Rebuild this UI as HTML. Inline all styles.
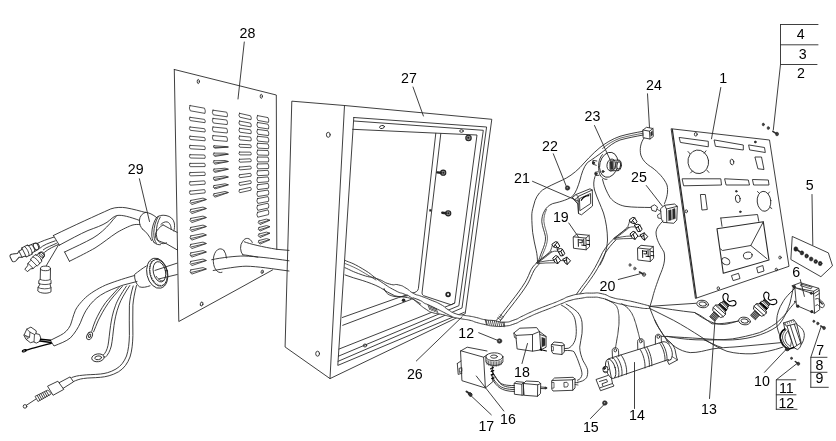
<!DOCTYPE html>
<html><head><meta charset="utf-8"><title>Exploded diagram</title>
<style>
html,body{margin:0;padding:0;background:#fff;}
body{width:836px;height:441px;overflow:hidden;font-family:"Liberation Sans",sans-serif;}
svg{display:block;will-change:transform}
text{font-family:"Liberation Sans",sans-serif;font-size:14.2px;fill:#000;stroke:none;text-anchor:middle}
</style></head><body>
<svg width="836" height="441" viewBox="0 0 836 441" fill="none" stroke="#2a2a2a" stroke-width="0.9" stroke-linecap="round" stroke-linejoin="round">
<rect x="0" y="0" width="836" height="441" fill="#fff" stroke="none"/>
<!-- Panel 28 -->
<g id="panel28">
<path d="M174.3,69.5 L276.3,95 L276.8,249.5 M174.3,69.5 L178.8,321.5 L239,288.5 L272.5,270"/>
<ellipse cx="198.3" cy="81.5" rx="1.1" ry="2.1"/>
<ellipse cx="261.3" cy="96.3" rx="1.1" ry="2"/>
<ellipse cx="201.6" cy="304" rx="1.3" ry="2.1" transform="rotate(15 201.6 304)"/>
<ellipse cx="262.2" cy="271.8" rx="1" ry="1.8" transform="rotate(15 262.2 271.8)"/>
<g id="louvers" stroke-width="0.8"><path d="M190.0,105.6 L204.5,108.2 Q205.8,110.8 205.0,113.4 L190.3,110.8 Q188.5,108.2 190.0,105.6Z"/><path d="M190.0,117.3 L204.5,119.4 Q205.8,121.1 205.0,122.7 L190.3,120.6 Q188.5,118.9 190.0,117.3Z"/><path d="M190.0,127.0 L204.5,128.7 Q205.8,130.3 205.0,132.0 L190.3,130.3 Q188.5,128.7 190.0,127.0Z"/><path d="M190.0,136.2 L204.5,137.5 Q205.8,139.1 205.0,140.8 L190.3,139.5 Q188.5,137.9 190.0,136.2Z"/><path d="M190.0,145.4 L204.5,146.2 Q205.8,147.9 205.0,149.6 L190.3,148.8 Q188.5,147.1 190.0,145.4Z"/><path d="M190.0,154.7 L204.5,155.0 Q205.8,156.7 205.0,158.3 L190.3,158.0 Q188.5,156.3 190.0,154.7Z"/><path d="M190.0,163.4 L204.5,163.3 Q205.8,164.9 205.0,166.6 L190.3,166.7 Q188.5,165.1 190.0,163.4Z"/><path d="M190.0,172.6 L204.5,172.1 Q205.8,173.7 205.0,175.4 L190.3,175.9 Q188.5,174.3 190.0,172.6Z"/><path d="M190.0,181.8 L204.5,180.8 Q205.8,182.5 205.0,184.2 L190.3,185.2 Q188.5,183.5 190.0,181.8Z"/><path d="M190.0,191.1 L204.5,189.6 Q205.8,191.3 205.0,192.9 L190.3,194.4 Q188.5,192.7 190.0,191.1Z"/><path d="M190.8,200.4 L203.0,198.1 L206.5,199.5 L191.8,204.6 Q188.5,202.5 190.8,200.4Z M191.3,202.9 L205.5,199.6"/><path d="M190.8,209.4 L203.0,207.1 L206.5,208.5 L191.8,213.6 Q188.5,211.5 190.8,209.4Z M191.3,211.9 L205.5,208.6"/><path d="M190.8,218.4 L203.0,216.1 L206.5,217.5 L191.8,222.6 Q188.5,220.5 190.8,218.4Z M191.3,220.9 L205.5,217.6"/><path d="M190.8,227.4 L203.0,225.1 L206.5,226.5 L191.8,231.6 Q188.5,229.5 190.8,227.4Z M191.3,229.9 L205.5,226.6"/><path d="M190.8,235.9 L203.0,233.6 L206.5,235.0 L191.8,240.1 Q188.5,238.0 190.8,235.9Z M191.3,238.4 L205.5,235.1"/><path d="M190.8,244.4 L203.0,242.1 L206.5,243.5 L191.8,248.6 Q188.5,246.5 190.8,244.4Z M191.3,246.9 L205.5,243.6"/><path d="M190.8,252.9 L203.0,250.6 L206.5,252.0 L191.8,257.1 Q188.5,255.0 190.8,252.9Z M191.3,255.4 L205.5,252.1"/><path d="M190.8,261.4 L203.0,259.1 L206.5,260.5 L191.8,265.6 Q188.5,263.5 190.8,261.4Z M191.3,263.9 L205.5,260.6"/><path d="M190.8,269.9 L203.0,267.6 L206.5,269.0 L191.8,274.1 Q188.5,272.0 190.8,269.9Z M191.3,272.4 L205.5,269.1"/><path d="M213.0,110.2 L226.7,112.2 Q228.0,114.5 227.2,116.8 L213.3,114.8 Q211.5,112.5 213.0,110.2Z"/><path d="M213.0,118.4 L226.7,120.0 Q228.0,122.3 227.2,124.6 L213.3,123.0 Q211.5,120.7 213.0,118.4Z"/><path d="M213.0,127.0 L226.7,128.4 Q228.0,130.7 227.2,133.0 L213.3,131.6 Q211.5,129.3 213.0,127.0Z"/><path d="M213.0,135.6 L226.7,136.8 Q228.0,139.1 227.2,141.4 L213.3,140.2 Q211.5,137.9 213.0,135.6Z"/><path d="M214.0,145.8 L225.0,146.5 L228.5,147.0 L215.0,148.2 Q211.7,147.0 214.0,145.8Z M214.5,147.4 L227.5,147.1"/><path d="M214.0,153.1 L225.0,153.2 L228.5,154.2 L215.0,156.4 Q211.7,154.8 214.0,153.1Z M214.5,155.2 L227.5,154.3"/><path d="M214.0,160.8 L225.0,160.5 L228.5,161.5 L215.0,164.2 Q211.7,162.5 214.0,160.8Z M214.5,162.9 L227.5,161.6"/><path d="M214.0,169.1 L225.0,168.2 L228.5,169.2 L215.0,172.4 Q211.7,170.8 214.0,169.1Z M214.5,171.2 L227.5,169.3"/><path d="M214.0,177.3 L225.0,176.0 L228.5,177.0 L215.0,180.7 Q211.7,179.0 214.0,177.3Z M214.5,179.4 L227.5,177.1"/><path d="M214.0,185.6 L225.0,183.8 L228.5,184.8 L215.0,188.9 Q211.7,187.2 214.0,185.6Z M214.5,187.7 L227.5,184.8"/><path d="M214.0,193.8 L225.0,191.5 L228.5,192.5 L215.0,197.2 Q211.7,195.5 214.0,193.8Z M214.5,195.9 L227.5,192.6"/><path d="M239.5,113.3 L250.5,115.8 Q251.8,117.8 251.0,119.7 L239.8,117.2 Q238.0,115.2 239.5,113.3Z"/><path d="M239.5,121.1 L250.5,123.1 Q251.8,125.0 251.0,126.9 L239.8,124.9 Q238.0,123.0 239.5,121.1Z"/><path d="M239.5,128.3 L250.5,129.8 Q251.8,131.8 251.0,133.7 L239.8,132.2 Q238.0,130.2 239.5,128.3Z"/><path d="M239.5,136.1 L250.5,137.1 Q251.8,139.0 251.0,140.9 L239.8,139.9 Q238.0,138.0 239.5,136.1Z"/><path d="M239.5,144.3 L250.5,144.8 Q251.8,146.2 251.0,147.7 L239.8,147.2 Q238.0,145.8 239.5,144.3Z"/><path d="M239.5,152.1 L250.5,152.1 Q251.8,153.5 251.0,154.9 L239.8,154.9 Q238.0,153.5 239.5,152.1Z"/><path d="M239.5,159.3 L250.5,158.8 Q251.8,160.2 251.0,161.7 L239.8,162.2 Q238.0,160.8 239.5,159.3Z"/><path d="M239.5,167.1 L250.5,166.1 Q251.8,167.5 251.0,168.9 L239.8,169.9 Q238.0,168.5 239.5,167.1Z"/><path d="M239.5,174.8 L250.5,173.3 Q251.8,174.8 251.0,176.2 L239.8,177.7 Q238.0,176.2 239.5,174.8Z"/><path d="M239.5,182.6 L250.5,180.6 Q251.8,182.0 251.0,183.4 L239.8,185.4 Q238.0,184.0 239.5,182.6Z"/><path d="M239.5,189.8 L250.5,187.3 Q251.8,188.8 251.0,190.2 L239.8,192.7 Q238.0,191.2 239.5,189.8Z"/><path d="M257.5,115.6 L268.0,117.6 Q269.3,120.0 268.5,122.4 L257.8,120.4 Q256.0,118.0 257.5,115.6Z"/><path d="M257.5,122.5 L268.0,124.2 Q269.3,126.6 268.5,129.0 L257.8,127.3 Q256.0,124.9 257.5,122.5Z"/><path d="M257.5,129.4 L268.0,130.8 Q269.3,133.2 268.5,135.6 L257.8,134.2 Q256.0,131.8 257.5,129.4Z"/><path d="M257.5,136.3 L268.0,137.4 Q269.3,139.8 268.5,142.2 L257.8,141.1 Q256.0,138.7 257.5,136.3Z"/><path d="M257.5,143.3 L268.0,143.9 Q269.3,146.3 268.5,148.7 L257.8,148.1 Q256.0,145.7 257.5,143.3Z"/><path d="M257.5,150.2 L268.0,150.5 Q269.3,152.9 268.5,155.3 L257.8,155.0 Q256.0,152.6 257.5,150.2Z"/><path d="M257.5,157.1 L268.0,157.1 Q269.3,159.5 268.5,161.9 L257.8,161.9 Q256.0,159.5 257.5,157.1Z"/><path d="M257.5,164.0 L268.0,163.7 Q269.3,166.1 268.5,168.5 L257.8,168.8 Q256.0,166.4 257.5,164.0Z"/><path d="M257.5,170.9 L268.0,170.3 Q269.3,172.7 268.5,175.1 L257.8,175.7 Q256.0,173.3 257.5,170.9Z"/><path d="M257.5,177.8 L268.0,176.9 Q269.3,179.3 268.5,181.7 L257.8,182.6 Q256.0,180.2 257.5,177.8Z"/><path d="M257.5,184.8 L268.0,183.4 Q269.3,185.8 268.5,188.2 L257.8,189.6 Q256.0,187.2 257.5,184.8Z"/><path d="M257.5,191.7 L268.0,190.0 Q269.3,192.4 268.5,194.8 L257.8,196.5 Q256.0,194.1 257.5,191.7Z"/><path d="M257.5,198.6 L268.0,196.6 Q269.3,199.0 268.5,201.4 L257.8,203.4 Q256.0,201.0 257.5,198.6Z"/><path d="M257.5,205.5 L268.0,203.2 Q269.3,205.6 268.5,208.0 L257.8,210.3 Q256.0,207.9 257.5,205.5Z"/><path d="M257.5,212.4 L268.0,209.8 Q269.3,212.2 268.5,214.6 L257.8,217.2 Q256.0,214.8 257.5,212.4Z"/><path d="M259.0,221.0 L266.5,219.1 L270.0,220.2 L260.0,224.6 Q256.7,222.8 259.0,221.0Z M259.5,223.2 L269.0,220.3"/><path d="M259.0,227.5 L266.5,225.6 L270.0,226.7 L260.0,231.1 Q256.7,229.3 259.0,227.5Z M259.5,229.7 L269.0,226.8"/><path d="M259.0,234.0 L266.5,232.1 L270.0,233.2 L260.0,237.6 Q256.7,235.8 259.0,234.0Z M259.5,236.2 L269.0,233.3"/><path d="M259.0,240.5 L266.5,238.6 L270.0,239.7 L260.0,244.1 Q256.7,242.3 259.0,240.5Z M259.5,242.7 L269.0,239.8"/></g>
<!-- holes with cables -->
<path d="M224,250.5 A7,12 0 1 0 222,272.3"/>
<path d="M226.5,258 A7,12 0 0 0 224,250.5"/>
<path d="M252.3,242.5 A5.9,8.5 0 0 0 242.6,241.5 A5.9,8.5 0 0 0 242.8,254.8"/>
<path d="M211.7,259.7 C222,257.5 236,256 244,256 C256,256.5 270,258 289,260.8"/>
<path d="M213.2,270.5 C224,268.8 238,266.3 246,266.2 C258,266.4 272,268.8 289,271"/>
<path d="M244.3,241.8 C250,244 262,246.8 276.8,249.3 L289,250.4"/>
<path d="M242.8,254.8 C246,255 252,256 258,257.2"/>
</g>

<!-- Box 27 -->
<g id="box27">
<path d="M292.2,101.2 L344.5,105.5 L491.8,119.3 L465.2,313.7 L330,378.6 L285.4,347.2 Z"/>
<path d="M344.5,105.5 L330,378.6"/>
<ellipse cx="328.3" cy="134.8" rx="1.9" ry="2.5"/>
<ellipse cx="317.6" cy="353.7" rx="1.9" ry="2.5"/>
<!-- frame inner lines -->
<path d="M353.800,117.500 L486.600,127 L462,308 L338.100,361.300 M353.800,117.500 L337.800,365.400 L464.300,312.300"/>
<path d="M354,121 L483.300,130.300 L458.900,305.700 L338.400,356.200"/>
<path d="M352.600,129.300 L477,135 L454.700,303 L452.500,304.100 L338.900,349.100"/>
<!-- back panel divider -->
<path d="M435.800,133.300 L418.400,288.500 C418,291 416,292.300 413,293 M440.800,133.600 L422,293 C422.300,294.800 423,295.500 423.900,295.800 L451.100,304.800 L454.700,303"/>
<!-- back wall bottom -->
<path d="M342.300,317.500 L398.500,297.600 L413,293 M342.700,325.300 L411.200,299.400"/>
<ellipse cx="382" cy="127" rx="2.5" ry="1.5" transform="rotate(-15 382 127)"/>
<ellipse cx="461.5" cy="131" rx="1.8" ry="1.3"/>
<!-- studs -->
<g fill="#888" stroke="#222" stroke-width="1.100"><circle cx="468.500" cy="138" r="2.700"/><circle cx="443.200" cy="172.700" r="2.600"/><circle cx="448.200" cy="213.300" r="2.600"/></g>
<g fill="#222" stroke="none"><circle cx="468.300" cy="137.700" r="1"/><circle cx="443.400" cy="172.700" r="1"/><circle cx="448.400" cy="213.300" r="1"/><rect x="429.300" y="209.300" width="2.200" height="2.200"/><circle cx="403.600" cy="300.300" r="1.800"/></g>
<path d="M437.300,172.400 L440.800,172.800 M442.300,212.700 L445.800,213.200" stroke-width="2.400" stroke="#222"/>
<circle cx="448.100" cy="294.400" r="1.900" stroke-width="1.700" stroke="#222"/>
<ellipse cx="365" cy="345.5" rx="1.7" ry="1.5"/>
</g>

<!-- Plate 1 -->
<g id="plate1">
<path d="M671.5,128.8 L769.5,140 L789,266.3 L695.8,298.3 Z"/>
<path d="M672.3,129.5 L696.3,297.5" stroke-width="1.3"/>
<path d="M679.5,137.5 L708.3,141.3 L708.3,146.8 L680.8,142.5Z"/>
<path d="M714.5,140 L743.3,145 L743.3,150 L715.8,146.3Z"/>
<path d="M749,145 L764.5,147.5 L765.3,152.5 L750,150Z"/>
<ellipse cx="695.8" cy="134.3" rx="1.4" ry="1.8"/>
<circle cx="755.3" cy="142" r="0.9" fill="#2a2a2a"/>
<ellipse cx="698.3" cy="161.8" rx="10.3" ry="11.8" transform="rotate(-8 698.3 161.8)"/>
<path d="M688,151.5 l2.2,2.4 M706,150.8 l-1.8,2.4 M690.5,173 l2,-2 M709,172.5 l-2,-2.2"/>
<ellipse cx="732" cy="162" rx="1.8" ry="2.8" transform="rotate(-10 732 162)"/>
<path d="M755.3,157 L761.5,157 L764,169.5 L758.3,168.8Z"/>
<path d="M682.5,178.8 L720.8,178.8 L721.5,185 L684,185.8Z"/>
<path d="M725,178.8 L748.3,180 L749.5,185 L726.5,185Z"/>
<path d="M752.8,179.5 L768.3,180 L769,185 L754,185Z"/>
<path d="M700.8,194.5 L705.3,194.5 L707.3,209.5 L702.3,210Z"/>
<ellipse cx="737.8" cy="198.8" rx="2.4" ry="3.8" transform="rotate(-8 737.8 198.8)"/>
<circle cx="736.3" cy="191.3" r="0.8" fill="#2a2a2a"/>
<ellipse cx="764" cy="201.3" rx="6.8" ry="10" transform="rotate(-6 764 201.3)"/>
<path d="M757.5,191.5 l1.5,1.6 M769.5,192 l-1.2,1.5 M771.8,208.5 l-1.6,-1"/>
<!-- tray -->
<path d="M720.8,218 L757.5,214.5 L758.8,221.3 M720.8,218 L722,226.3"/>
<path d="M717,228.8 L763.3,221.8 L769,260 L723.3,273.3 Z" stroke-width="1.1"/>
<path d="M763.3,221.8 L750.8,245.5 L767,258.8 M750.8,245.5 L722.5,250.5 L720.5,249"/>
<ellipse cx="725.8" cy="261.3" rx="4.3" ry="3.2" transform="rotate(30 725.8 261.3)"/>
<ellipse cx="747.8" cy="255.5" rx="4.4" ry="3.4" transform="rotate(-10 747.8 255.5)"/>
<path d="M731.8,275.5 L738.5,273.3 L740,278.5 L733.5,280.5Z"/>
<path d="M757,267.5 L762.8,265.5 L764,271 L758.3,272.8Z"/>
<ellipse cx="686.3" cy="211.3" rx="1.2" ry="1.5"/>
<ellipse cx="718.3" cy="288.3" rx="1.2" ry="1.5"/>
<ellipse cx="780" cy="257.5" rx="1.2" ry="1.5"/>
<ellipse cx="776.3" cy="269.5" rx="1.1" ry="1.3"/>
<circle cx="740.3" cy="211.8" r="0.8" fill="#2a2a2a"/>
</g>

<!-- Cables 29 (left) -->
<g id="cables29">
<!-- upper sheath 1 -->
<path d="M53.4,235.5 C75,225 95,216 110.8,208.9 C116,207 122,207.2 126,207.8 C133,209 140,211 145.5,212.5"/>
<path d="M53.4,235.5 L59.3,245.2"/>
<path d="M59.3,245.2 C70,239.5 80,234 88,230.5 C96,227.5 102,225.5 107,222.3 C111,219.5 113,216.5 117,215.5 C122,214.6 130,217 139.5,220.4"/>
<!-- sheath 2 -->
<path d="M64.6,252 L69.4,261.3 M64.6,252 C75,247 85,242.5 93,238 C100,234 106,228 110,223.5 C112,221 114,218.5 116,216.5"/>
<path d="M69.4,261.3 C80,256 88,252 95,248 C103,243 110,237 117,232.5 C123,229 129,226.3 132,225.2 C135,224.3 137.5,224.3 139.8,224.6"/>
<!-- upper grommet -->
<path d="M145.5,212.3 C142,213.5 139.6,216.5 139.4,220.5 C139.3,224 140.5,227 142.5,229.2"/>
<path d="M145.5,212.3 C149,212.6 153,214.5 156.5,217.5"/>
<path d="M142.5,229.2 C146,231.5 149.5,236 151.5,240.5"/>
<path d="M156.5,217.5 C153.5,222 152,228 151.8,233 C151.6,237.5 152.5,240.5 154,242.5"/>
<path d="M158.3,216.5 C155.5,221 154,227 153.8,232.5 C153.7,237 154.6,240.8 156.3,243.3"/>
<path d="M156.5,217.5 C158.5,215.5 162,214.8 166,215.5 C170.5,216.3 173.5,219 174.3,223 C174.8,226 174.5,229 173.8,231"/>
<path d="M160.3,217 C157.5,221.5 156.3,227.5 156.3,232.5 C156.3,237.5 157.8,241.5 160.5,243 C162.5,244 165,243.8 166.5,242.8"/>
<path d="M154,242.5 C156,244.3 158.5,245 160.5,244.7"/>
<path d="M160.800,224.500 C162.500,222.500 165,221.600 167,221.900 C169.500,222.500 171,225 171.200,229.300"/>
<path d="M163,224.900 C167,227 172,230 177.200,232.400"/>
<path d="M163,224.900 C159.500,227 157,230 155.800,233 C155,236 155.600,238.300 157,239.800 C160,241.800 163.500,242.500 166,243.500 L177.200,249.900"/>
<!-- lower grommet -->
<g transform="rotate(-13 157.300 273.200)">
<ellipse cx="157.300" cy="273.200" rx="10.400" ry="15.300"/>
<ellipse cx="158.600" cy="273" rx="8.600" ry="13.600"/>
<path d="M155.500,259 A9.500,14.500 0 0 0 162.500,285.800" stroke-width="1.400" stroke-dasharray="0.600 1.200" stroke="#333" stroke-linecap="butt"/>
<ellipse cx="159.700" cy="272.300" rx="6.100" ry="10.300"/>
<path d="M162.500,281.500 C160,283 157,280 155.500,276" stroke-width="0.800"/>
</g>
<path d="M146.300,266 C142,268.500 138.500,271.500 134.600,274.400 C134.300,279 136,284.500 139.500,286.800 C142.500,288 146.500,287 150,285.800"/>
<path d="M155,270.400 L177,263.200 M159,278.900 L177.200,274.500"/>
<!-- big sheath from lower grommet -->
<path d="M134.2,275.6 C122,279 112,282.5 105.5,285.1 C97,289 90,293.5 85.4,297.7 C80,303 77,307 75.4,310.3 C73,316 72,321 70.4,325.3 C68,330 65,333 60.3,335.4 L50.3,340.4 L54,346 C60,343.5 66,341.5 70.4,337.9 C75,333 78,328 80.4,322.8 C83,316 85,311.5 87.9,307.7 C91,303 95.5,298.5 100.5,295.2 C107,291 115,288 123.1,285.1 L137,281.5"/>
<!-- wire 2 w/ small ring -->
<path d="M119,287.5 C113,294 108.5,299 105.5,302.7 C101,309 98,315 95.5,320.3 C94,324 92.5,328 91.7,331.2"/>
<path d="M122.3,286.5 C116,293.5 111,299 108,303.5 C103.5,310 100.5,316 98,321 C96.5,324.5 95,328.5 93.6,331.8"/>
<ellipse cx="89.6" cy="335.8" rx="2.6" ry="4" transform="rotate(25 89.6 335.8)"/>
<ellipse cx="89.6" cy="335.8" rx="1" ry="1.8" transform="rotate(25 89.6 335.8)"/>
<!-- wire 3 w/ large ring -->
<path d="M126.5,286 C121,294 117.5,300 115.6,305.2 C112.5,313 111.5,320 110.6,325.3 C109.5,333 109,340 108,345.4 C107,350 105.5,353 103.5,354.8"/>
<path d="M129.8,285.5 C124.5,293.5 121,299.5 119,305 C116,313 114.8,320 114,325.5 C113,333 112.5,340 111.3,346 C110,351 108,355 105.3,357.3"/>
<ellipse cx="98" cy="357.8" rx="6.3" ry="3.9" transform="rotate(-8 98 357.8)"/>
<ellipse cx="98.2" cy="357.8" rx="3.4" ry="1.9" transform="rotate(-8 98.2 357.8)"/>
<!-- wire 4 to spring end -->
<path d="M133.2,286 C131,293 129.8,300 129.4,305.2 C129,315 129.5,325 129.4,335.4 C129.2,343 128.5,350 126.5,356 C124,362 121,366 116,369 C110,372.5 105,373.5 100.5,374 C93,374.8 88,374.5 82.9,375.2 C78,375.500 74.500,376.500 71.800,377.500"/>
<path d="M136.5,285.5 C134.5,293 133.3,300 132.9,305.2 C132.5,315 133,325 132.9,335.4 C132.7,343 132,351 130,357 C127.5,363.5 124,368.5 118.5,371.8 C112,375.5 106,376.8 100.5,377.3 C93,378 88.5,377.7 83.5,378.5 C79.500,379 76.500,380.200 73.500,381.500"/>
<path d="M47.900,386 L57.900,381.200 L63.800,389.400 L53.400,395.100 Z"/>
<path d="M59.300,382.600 L70.100,376.900 L73.500,381.800 L63.200,388.300"/>
<path d="M35.400,396.200 L47.900,390 L51.300,393.900 L38.300,401.300 Z" stroke-width="0.800"/>
<path d="M37.200,395.400 l2.800,4.900 M39,394.500 l2.800,4.900 M40.800,393.600 l2.800,4.900 M42.600,392.700 l2.800,4.900 M44.400,391.800 l2.800,4.900 M46.200,390.900 l2.800,4.800" stroke-width="0.900"/>
<path d="M36,399 L26.400,405.300"/>
<circle cx="25" cy="406.400" r="1.800"/>
<!-- connector at left of big sheath -->
<path d="M24.100,335 L26.800,329.100 L30.900,327.100 L36.300,330.900 L35.900,333.600 L39.500,334.500 L40.800,338.100 L39.900,341.300 L36.300,343.100 L33.600,341.800 L30.400,342.700 L26.300,339.500 Z"/>
<path d="M26.800,329.100 L30,332.200 L34.500,334.500 L35.900,333.600 M30,332.200 L29.500,337.200 L26.300,339.500 M34.500,334.500 L34,341.800 M29.500,337.200 L24.100,335 M25.800,336.500 L27.300,337.200" stroke-width="0.800"/>
<path d="M40.500,339.300 L50.500,340.300 M40,341 L51,342.500" stroke="#000" stroke-width="1.400"/>
<path d="M51.300,343.300 C44,345 36,347.300 30.500,348.800 C27.500,349.700 25.500,350.300 24.500,350.700" stroke="#000" stroke-width="1.300"/>
<ellipse cx="24.300" cy="350.800" rx="2.700" ry="1.500" fill="#000" stroke="none" transform="rotate(-15 24.300 350.800)"/>
<ellipse cx="24" cy="350.900" rx="1" ry="0.500" fill="#bbb" stroke="none" transform="rotate(-15 24 350.900)"/>
<!-- bullet connectors -->
<g transform="rotate(-26.5 25 252)">
<path d="M9.5,249.8 C9.5,248 11.5,247.5 13,248.2 L17.5,250 L20,248.6 L23,248.4 L24,247 L30,246.8 L31,248 L37,248.3 C39.5,248.5 40.5,250.5 40.5,252 C40.500,254 39.5,255.5 37,255.700 L31,256 L30,257.2 L24,257 L23,255.600 L20,255.400 L17.5,254 L13,255.8 C11,256.5 9.5,255.8 9.5,254 Z"/>
<path d="M20,248.600 L20,255.400 M24,247 L24,257 M27,246.900 C28.500,249 28.500,255 27,257.100 M30.500,247 C32,249 32,255 30.500,257 M34,248.2 C35.300,250 35.300,254 34,255.800" stroke-width="0.8"/>
<ellipse cx="37.300" cy="252" rx="2.300" ry="3.500"/>
</g>
<g transform="rotate(-45 34.500 262)">
<path d="M23,260.200 L27,259.800 L29,258.300 L33,258.300 L34,257.200 L40,257.200 L41,258.600 L44,258.800 C46.500,259 47.500,260.500 47.500,262 C47.500,263.500 46.500,265 44,265.200 L41,265.400 L40,266.800 L34,266.800 L33,265.700 L29,265.700 L27,264.200 L23,263.800 Z"/>
<path d="M29,258.300 L29,265.700 M33.500,257.800 L33.500,266.200 M37,257.200 C38.300,259 38.300,265 37,266.800 M40.500,258 C41.800,260 41.800,264 40.500,266 M44,258.800 C45,260.500 45,263.500 44,265.200" stroke-width="0.8"/>
<ellipse cx="44.600" cy="262" rx="2" ry="3"/>
</g>
<!-- wires from sheath 1 end to bullets -->
<path d="M37.500,243.300 C41,241.500 47,239.300 53.600,237.200 M39.800,248.300 C43,245 49.500,242.800 55.300,240.800 M43.300,249.800 C46.500,247 52,245.600 56.500,243.300 M44.500,252.300 C49,248.500 54,246.500 57.900,244.700"/>
<!-- wire to connector 3 -->
<path d="M58.700,244.600 L46.200,265.800"/>
<ellipse cx="45.500" cy="268.400" rx="5" ry="2.300"/>
<path d="M40.500,268.400 L40.200,279.500 L38.800,280.500 L38.800,283.500 L40,284.200 L38,287.500 L37.800,291 C40,293.500 48,294 51,291.800 L51,287.800 L50,284.300 L51,283.500 L51,280.500 L50.300,279.600 L50.500,268.400"/>
<path d="M40.200,279.500 C43,280.800 47.500,280.800 50.300,279.600 M38.800,283.500 C42,285 48,285 51,283.500 M38,287.500 C41,289.300 48,289.300 51,287.800" stroke-width="0.8"/>
</g>

<!-- middle harness + components -->
<g id="mid">
<!-- connector 24 -->
<path d="M643,130 L646.5,127.300 L653,128.500 L653.300,136.500 L650,139 L643.500,137.800 Z M643,130 L649.500,131.200 L653,128.500 M649.500,131.200 L650,139"/>
<path d="M650.800,132.200 L652.300,131 L652.500,135 L651,136.200Z" fill="#2a2a2a" stroke-width="0.5"/>
<!-- wires from 24 to left -->
<path d="M643,131.300 C636,132.500 628,134 620,136.300 C612,139 605,143.500 600,147.500 C592,154 585,162 580,167.500 C574,173.500 568,177.500 562.500,180 C555,183.500 548,186.500 542.500,190 C538,193.500 535,199 533.800,205 C532.300,210 531.700,213 531.800,216 C531.800,222 532.200,228 532.700,232.700 C533.500,239 535,245 536.300,250.800 C537,254 537.500,258 537.500,262"/>
<path d="M643.300,135 C636,136.300 628,137.800 620,140 C614,142.300 609,146 605,150 C598,155.500 592,159.500 587.500,162.500 C583.500,167 581.500,174 580,180 C578,186.500 576,192.500 572.500,196.300 C569,199 562,201.500 552.700,203.600 C548.500,205.300 546,208 544.500,210.900 C542.500,214.500 541.700,218 541.800,221.800 C542.300,227 544.500,231.500 545.400,236.300 C545.800,240 545,243.500 543.600,247.200 C542,251.500 540,256 538.500,261"/>
<path d="M546.500,209.500 C544.500,213.500 543.700,217.500 543.900,221.500 C544.300,226.500 546.500,231 547.300,236 C547.700,240 547,243.500 545.500,247.500 C544,251.500 541.500,257 539.500,262" stroke-width="0.7"/>
<path d="M643.300,133.200 C636,134.500 628,136 620,138.200 C613,140.800 607,144.500 602.500,148.500" stroke-width="0.7"/>
<!-- wire from 24 down to 25 -->
<path d="M644,138 C640.500,143 639.500,149 640.800,155 C643,161.500 648,165 652,167.500 C658,172 664,178 667,185 C668.500,191 667,198 664.500,203.500"/>
<!-- item 23 key switch -->
<ellipse cx="608.800" cy="164.800" rx="9" ry="12.700" transform="rotate(14 608.800 164.800)"/>
<path d="M602.500,154.500 C598.500,158.500 597.500,167 599.500,173.500 C601,177.500 604,179.800 607,179.300"/>
<ellipse cx="611.300" cy="165" rx="4.300" ry="6" transform="rotate(10 611.300 165)"/>
<path d="M611.500,160.200 L618.800,160.200 M610.300,170.800 L617.800,170.700" />
<path d="M610,161.800 L612.800,161.300 L613,169.300 L610.200,169.600 Z" fill="#2a2a2a" stroke-width="0.600"/>
<path d="M613.800,160.300 L614,170.700" stroke-width="0.8"/>
<ellipse cx="618.500" cy="165.400" rx="2.900" ry="5.300" transform="rotate(6 618.500 165.400)" fill="#fff"/>
<ellipse cx="618.700" cy="165.400" rx="1.800" ry="3.700" transform="rotate(6 618.700 165.400)" stroke-width="1.100"/>
<path d="M596.800,161 L593,160.300 L592.500,164 L596.300,165.300 M598,171.800 L595,172.300 L595.300,175.500 L599,175.300"/>
<circle cx="593.500" cy="162.800" r="1.100" fill="#2a2a2a"/><circle cx="596" cy="173.800" r="1.100" fill="#2a2a2a"/><circle cx="603" cy="171.500" r="1" fill="#2a2a2a"/>
<!-- wires from 23 -->
<path d="M595,176.500 C593.500,181 593.300,185 594.500,190 C597,198 601,206 603.500,213 C606,221 607.500,231 607.500,240 C607,250 604,258 600,265"/>
<path d="M602.500,179.500 C604,186 607,192.500 610,197.500 C614,202.500 619,205 625,206.300 C633,207.500 642,207.300 650.500,207.500"/>
<!-- item 22 nut -->
<circle cx="567.500" cy="188" r="2.200" fill="#333" stroke-width="0.6"/>
<circle cx="567.300" cy="187.800" r="0.700" fill="#999" stroke="none"/>
<!-- item 21 switch -->
<path d="M572.500,197.500 L576,194.500 L590,188.800 L592.300,190 L592.500,206 L581.500,214.800 L578.500,213.500 L577.800,204 Z"/>
<path d="M576,194.500 L578,196.500 L578.500,213.500 M578,196.500 L592.300,190 M579.800,198.500 L590.500,193.500 L590.700,203.500 L580.200,210.500 Z"/>
<path d="M581.300,200.300 C583,197 585.500,195.700 588.800,195.600" stroke="#000" stroke-width="1.200"/>
<path d="M572.500,197.500 L574.500,199.800 L577.800,204 M574.500,199.800 L578.200,197" stroke-width="0.8"/>
<!-- relay 19 -->
<g transform="translate(-0.300,-1.200)">
<path d="M573.800,238 L577,235.300 L589.500,236.500 L589.800,248 L586.500,251 L574.200,249.500 Z M573.800,238 L586.200,239.300 L589.500,236.500 M586.200,239.300 L586.500,251"/>
<path d="M578.500,240.500 L578.700,247.500 M579,241 L582.500,241.300 M582.500,241.300 L582.600,244 L580,243.800 M584,240.300 L584.200,246.500 M582,246.300 L586,246.700 M587,241.500 l2.500,0.300 M587,245.500 l2.800,0.300" stroke="#000" stroke-width="0.9"/>
</g>
<!-- relay right -->
<path d="M637.800,248 L641,245.300 L653.300,246.500 L653.600,258.300 L650.300,261.500 L638.200,260 Z M637.800,248 L650,249.300 L653.300,246.500 M650,249.300 L650.300,261.500"/>
<path d="M642.500,250.500 L642.700,257.500 M643,251 L646.500,251.300 M646.500,251.300 L646.600,254 L644,253.800 M648,250.300 L648.200,256.500 M646,256.300 L650,256.700 M651,251.500 l2.500,0.300 M651,255.500 l2.800,0.300" stroke="#000" stroke-width="0.9"/>
<!-- screws 20 -->
<g fill="#888" stroke-width="0.5"><ellipse cx="630" cy="265" rx="1.100" ry="1.400"/><ellipse cx="634.800" cy="268.500" rx="1.200" ry="1.500"/><ellipse cx="644" cy="274.500" rx="1.700" ry="2"/></g>
<path d="M639.500,272 L643,274" stroke-width="1.600"/>
<!-- connector 25 -->
<path d="M651.300,206.500 L654.500,204.800 L657.500,207 L656,211.500 L652.300,210.500 Z"/>
<path d="M660.800,208.500 L664.500,205.300 L674.500,204 L677.300,206.300 L676.800,220 L673.800,223.300 L663,222.300 L661.500,219 Z M664.500,205.300 L666.500,209 L666.800,222.500 M666.500,209 L677.300,206.300"/>
<path d="M668.500,210.500 L671,209.800 L671.300,220 L668.800,220.500Z M672.500,209.300 L675,208.600 L675.300,218.500 L672.800,219.300Z" fill="#2a2a2a" stroke-width="0.5"/>
<path d="M657.500,209.500 L661,211.500 M660,213.500 l-2.500,1.500 l0.500,3 l3,0.500" stroke-width="0.8"/>
<!-- wire from 25 down to node -->
<path d="M663,221 C659,225 656.500,228 656,232 C656,240 660.500,246 664,252 C666,260 663,268 660,275 C657,283 653.500,293 652.500,298 L650,306.300"/>
<!-- connector cluster left (under 19) -->
<g id="cl1">
<path d="M552.200,244.100 L555.400,241.700 L557.400,242.100 L559.800,246.100 L557.800,248.100 L555.800,247.700 L553.800,246.900 Z M553.800,246.900 L555.200,244.800 L557.400,242.100 M555.200,244.800 L557.800,248.100" stroke="#111" stroke-width="1"/>
<path d="M557.400,249.300 L560.600,248.500 L562.500,249.300 L564.900,253.700 L562.900,255.600 L560.600,256 L558.600,252.100 Z M558.600,252.100 L560.800,251.300 L562.500,249.300 M560.800,251.300 L562.900,255.600" stroke="#111" stroke-width="1"/>
<path d="M562.900,259.200 L566.900,257.200 L570.500,260.800 L567.300,264.400 L564.900,262.800 L564.100,260.800 Z M564.100,260.800 L566.500,259.800 L566.900,257.200 M566.500,259.800 L567.300,264.400" stroke="#111" stroke-width="1"/>
<path d="M553,258 L555.800,255.600 L557.800,256.400 L560.600,260.400 L557.800,263.600 L555.400,262.800 L553.800,260.400 Z M553.800,260.400 L555.800,258.600 L557.800,256.400 M555.800,258.600 L557.800,263.600" stroke="#111" stroke-width="1"/>
<path d="M536.700,262.400 C542,258.500 548,254 550.500,251 C551.500,248.500 552,246.500 552.300,245.300 M537.900,262.800 C543.500,258.500 549,254.500 551,252.500 C552.500,251.700 553.500,251.300 554.300,251.200 L558,251.200 M538,261.800 C544,257 549,253 551.500,251.500 M536.700,262.800 C542,261.500 548,260.400 553.300,260.300 M537.200,263.600 C543,263 549,262.800 554.500,262.800 M560.600,260.600 L563.500,260.600" stroke-width="0.800"/>
</g>
<g transform="translate(77.300,-24.300)"><g>
<path d="M552.200,244.100 L555.400,241.700 L557.400,242.100 L559.800,246.100 L557.800,248.100 L555.800,247.700 L553.800,246.900 Z M553.800,246.900 L555.200,244.800 L557.400,242.100 M555.200,244.800 L557.800,248.100" stroke="#111" stroke-width="1"/>
<path d="M557.400,249.300 L560.600,248.500 L562.500,249.300 L564.900,253.700 L562.900,255.600 L560.600,256 L558.600,252.100 Z M558.600,252.100 L560.800,251.300 L562.500,249.300 M560.800,251.300 L562.900,255.600" stroke="#111" stroke-width="1"/>
<path d="M562.900,259.200 L566.900,257.200 L570.500,260.800 L567.300,264.400 L564.900,262.800 L564.100,260.800 Z M564.100,260.800 L566.500,259.800 L566.900,257.200 M566.500,259.800 L567.300,264.400" stroke="#111" stroke-width="1"/>
<path d="M553,258 L555.800,255.600 L557.800,256.400 L560.600,260.400 L557.800,263.600 L555.400,262.800 L553.800,260.400 Z M553.800,260.400 L555.800,258.600 L557.800,256.400 M555.800,258.600 L557.800,263.600" stroke="#111" stroke-width="1"/>
<path d="M536.700,262.400 C542,258.500 548,254 550.500,251 C551.500,248.500 552,246.500 552.300,245.300 M537.900,262.800 C543.500,258.500 549,254.500 551,252.500 C552.500,251.700 553.500,251.300 554.300,251.200 L558,251.200 M538,261.800 C544,257 549,253 551.500,251.500 M536.700,262.800 C542,261.500 548,260.400 553.300,260.300 M537.200,263.600 C543,263 549,262.800 554.500,262.800 M560.600,260.600 L563.500,260.600" stroke-width="0.800"/>
</g></g>
<!-- branch 1 from trunk up to cluster -->
<path d="M537,262.500 C533.500,265.500 531.500,268.500 530,272 C528,277 526.500,280 525,282.500 C521,289 516,295.500 512.500,300 C508,306 503,312 500,316.500 L496,320.600"/>
<path d="M539.500,263.800 C536,267 534,270 532.500,273.500 C530.500,278 529,281.500 527.500,284 C523.500,290.500 518.500,297 515,301.500 C510.500,307.500 505.500,313.500 502.500,318 L499.800,321.400"/>
<path d="M497.500,317.800 l3.200,2.200 M498.800,316.200 l3.200,2.200 M500,314.700 l3.200,2.200" stroke-width="0.700"/>
<!-- branch 2 from trunk up to cluster right -->
<path d="M576.300,294.500 C580,289 583,285 585,282.500 C589,277 592.500,272 595,267.500 C598,262 600.500,257 602.500,252.500 C605.500,247.500 609,243.500 612.500,240 L614.500,238"/>
<path d="M578.800,295.500 C582.500,290 585.500,286 587.500,283.500 C591.500,278 595,273 597.500,268.500 C600.500,263 603,258 605,253.500 C608,248.500 611.500,244.500 615.800,240"/>
<!-- trunk fill -->
<path d="M406.1,288.2 C408.5,289.9 408.2,290.6 413.3,293.3 C418.4,296.0 415.6,294.1 421.4,296.3 C427.2,298.5 424.1,297.2 430.6,299.9 C437.1,302.6 435.0,301.3 440.8,304.5 C446.6,307.7 443.2,306.6 448.0,309.6 C452.8,312.6 450.0,311.6 455.1,313.5 C460.2,315.4 458.3,314.3 463.3,315.2 C468.3,316.1 465.5,315.4 470.0,316.2 C474.5,317.0 471.6,316.4 476.7,317.6 C481.8,318.8 479.6,318.8 485.3,319.8 C491.0,320.8 487.6,319.8 493.9,320.6 C500.2,321.4 497.4,322.4 504.1,322.2 C510.8,322.0 508.0,322.0 514.0,320.0 C520.0,318.0 516.7,318.8 522.0,316.3 C527.3,313.8 524.7,314.9 530.0,312.5 C535.3,310.1 532.3,311.3 538.0,309.0 C543.7,306.7 541.3,307.7 547.0,305.5 C552.7,303.3 550.0,304.5 555.0,302.5 C560.0,300.5 557.0,301.6 562.0,299.5 C567.0,297.4 563.7,298.0 570.0,296.1 C576.3,294.2 573.6,294.8 580.8,293.8 C588.0,292.8 584.3,293.1 591.5,293.1 C598.7,293.1 595.1,292.2 602.3,293.8 C609.5,295.4 605.9,295.8 613.1,297.8 C620.3,299.8 616.6,298.5 623.8,299.9 C631.0,301.3 626.2,300.1 634.6,302.1 C643.0,304.1 644.3,304.6 649.1,305.8 L647.5,308.5 C643.2,308.0 642.5,308.1 634.6,306.9 C626.7,305.7 631.0,306.4 623.8,304.8 C616.6,303.2 620.3,304.3 613.1,302.1 C605.9,299.9 609.5,299.9 602.3,298.3 C595.1,296.7 598.7,297.2 591.5,297.2 C584.3,297.2 588.0,297.2 580.8,298.3 C573.6,299.4 576.3,298.8 570.0,300.5 C563.7,302.2 567.0,301.6 562.0,303.5 C557.0,305.4 560.0,304.3 555.0,306.3 C550.0,308.3 552.7,307.3 547.0,309.5 C541.3,311.7 543.7,310.7 538.0,313.0 C532.3,315.3 535.3,314.1 530.0,316.5 C524.7,318.9 527.3,317.8 522.0,320.3 C516.7,322.8 519.8,322.1 514.0,324.0 C508.2,325.9 511.4,325.4 504.7,326.1 C498.0,326.8 500.4,326.6 493.9,326.1 C487.4,325.6 491.0,325.8 485.3,324.6 C479.6,323.4 481.8,323.9 476.7,322.5 C471.6,321.1 475.2,321.5 470.0,320.3 C464.8,319.1 467.5,320.0 461.2,318.8 C454.9,317.6 457.8,318.2 451.0,316.7 C444.2,315.2 446.9,315.5 440.8,314.2 C434.7,312.9 437.5,314.2 432.7,312.7 C427.9,311.2 431.3,312.7 426.5,309.6 C421.7,306.5 423.8,307.8 418.4,303.5 C413.0,299.2 415.0,300.0 410.2,296.8 C405.4,293.6 406.1,294.9 404.0,294.0 Z" fill="#fff" stroke="none"/>
<!-- main trunk -->
<path d="M345.0,267.7 C350.7,270.1 351.6,271.3 362.2,274.9 C372.8,278.5 367.6,275.6 376.7,278.6 C385.8,281.6 382.1,281.9 389.4,284.0 C396.7,286.1 392.9,283.5 398.5,284.9 C404.1,286.3 401.2,285.4 406.1,288.2 C411.0,291.0 408.2,290.6 413.3,293.3 C418.4,296.0 415.6,294.1 421.4,296.3 C427.2,298.5 424.1,297.2 430.6,299.9 C437.1,302.6 435.0,301.3 440.8,304.5 C446.6,307.7 443.2,306.6 448.0,309.6 C452.8,312.6 450.0,311.6 455.1,313.5 C460.2,315.4 458.3,314.3 463.3,315.2 C468.3,316.1 465.5,315.4 470.0,316.2 C474.5,317.0 471.6,316.4 476.7,317.6 C481.8,318.8 479.6,318.8 485.3,319.8 C491.0,320.8 487.6,319.8 493.9,320.6 C500.2,321.4 497.4,322.4 504.1,322.2 C510.8,322.0 508.0,322.0 514.0,320.0 C520.0,318.0 516.7,318.8 522.0,316.3 C527.3,313.8 524.7,314.9 530.0,312.5 C535.3,310.1 532.3,311.3 538.0,309.0 C543.7,306.7 541.3,307.7 547.0,305.5 C552.7,303.3 550.0,304.5 555.0,302.5 C560.0,300.5 557.0,301.6 562.0,299.5 C567.0,297.4 563.7,298.0 570.0,296.1 C576.3,294.2 573.6,294.8 580.8,293.8 C588.0,292.8 584.3,293.1 591.5,293.1 C598.7,293.1 595.1,292.2 602.3,293.8 C609.5,295.4 605.9,295.8 613.1,297.8 C620.3,299.8 616.6,298.5 623.8,299.9 C631.0,301.3 626.2,300.1 634.6,302.1 C643.0,304.1 644.3,304.6 649.1,305.8"/>
<path d="M345.0,260.4 C350.7,263.1 350.4,261.6 362.2,268.6 C374.0,275.6 369.4,274.1 380.3,281.3 C391.2,288.5 386.9,286.1 394.8,290.3 C402.7,294.5 398.9,291.8 404.0,294.0 C409.1,296.2 405.4,293.6 410.2,296.8 C415.0,300.0 413.0,299.2 418.4,303.5 C423.8,307.8 421.7,306.5 426.5,309.6 C431.3,312.7 427.9,311.2 432.7,312.7 C437.5,314.2 434.7,312.9 440.8,314.2 C446.9,315.5 444.2,315.2 451.0,316.7 C457.8,318.2 454.9,317.6 461.2,318.8 C467.5,320.0 464.8,319.1 470.0,320.3 C475.2,321.5 471.6,321.1 476.7,322.5 C481.8,323.9 479.6,323.4 485.3,324.6 C491.0,325.8 487.4,325.6 493.9,326.1 C500.4,326.6 498.0,326.8 504.7,326.1 C511.4,325.4 508.2,325.9 514.0,324.0 C519.8,322.1 516.7,322.8 522.0,320.3 C527.3,317.8 524.7,318.9 530.0,316.5 C535.3,314.1 532.3,315.3 538.0,313.0 C543.7,310.7 541.3,311.7 547.0,309.5 C552.7,307.3 550.0,308.3 555.0,306.3 C560.0,304.3 557.0,305.4 562.0,303.5 C567.0,301.6 563.7,302.2 570.0,300.5 C576.3,298.8 573.6,299.4 580.8,298.3 C588.0,297.2 584.3,297.2 591.5,297.2 C598.7,297.2 595.1,296.7 602.3,298.3 C609.5,299.9 605.9,299.9 613.1,302.1 C620.3,304.3 616.6,303.2 623.8,304.8 C631.0,306.4 626.7,305.7 634.6,306.9 C642.5,308.1 642.7,308.6 647.5,308.5 C652.3,308.4 648.6,307.2 649.1,306.6"/>
<path d="M413.0,297.8 C415.5,298.7 416.6,298.8 420.4,300.6 C424.2,302.4 422.1,302.0 424.5,303.3 C426.9,304.6 423.8,302.8 427.6,304.5 C431.4,306.2 430.2,305.7 436.0,308.5 C441.8,311.3 439.7,310.3 445.0,313.0 C450.3,315.7 449.7,315.3 452.0,316.5"/>
<!-- tape wrap on trunk -->
<path d="M486.0,320.0 l1.2,4.6 M488.1,320.3 l1.2,4.6 M490.2,320.5 l1.2,4.6 M492.3,320.8 l1.2,4.6 M494.4,321.1 l1.2,4.6 M496.5,321.4 l1.2,4.6 M498.6,321.6 l1.2,4.6 M500.7,321.9 l1.2,4.6 M502.8,322.2 l1.2,4.6 " stroke-width="0.800"/>
<path d="M485.300,319.800 L486.500,324.700 M504.100,322.200 L504.600,326.100" stroke-width="0.800"/>
<!-- trunk continuing into box (left) -->
<path d="M420.500,303.800 C417,301.500 414,299.500 411,298.500 C409.500,298 408.500,297.800 407.500,297.600 C403,296.800 398.500,296.800 394.800,295.800 C389.500,293.500 385,290.500 380.300,287.600 C374.500,284.500 368,282.300 362.200,280.400 C356,278.800 350.500,276.800 345,274.900"/>
<path d="M384,288.500 C385,291.500 387,293.800 389.400,294.900 C392.500,296.300 395.500,296.800 398.500,296.700 C401.500,296.600 404.500,296.300 407.500,295.800"/>
<path d="M345,263.500 C351,265.800 357,268.500 362.200,271.700 C367,274.500 371,277 376,280" stroke-width="0.700"/>
<path d="M427.9,304.7 L429.8,309.7 M429.5,305.5 L431.4,310.3 M431.1,306.2 L433.0,310.9 M432.8,307.0 L434.6,311.5 M434.4,307.7 L436.2,312.1 M436.0,308.5 L437.8,312.7" stroke-width="0.800"/>
<!-- node rays to the right -->
<path d="M650,306.300 L695.800,303.300"/>
<path d="M650,306.300 C665,308.500 680,311 694.500,312.500 C702,315.500 707,320.500 712,323.800 C720,324.500 729,322.500 737.500,321.300"/>
<path d="M649.400,307.100 C651.500,312.500 653.800,318 656,323.300 C658.300,327.500 661,331.500 663.400,335.100 C665.500,338.300 667.500,341.300 669.300,344"/>
<!-- drops from trunk -->
<path d="M561.500,305.200 C565,307 567.500,309 569.500,310.900 C573,314 574.500,317 575.100,319.900 C576,324 576.300,328 576.300,331.300 C576.300,336 575.500,340 574,342.600 C572.500,345.500 570.500,347.300 568.300,348.300 L564.500,348.600"/>
<path d="M566.100,304.100 C570.500,306.500 574,309 577.400,312 C580,315 581.500,318.500 582,322.200 C582.300,326 582.300,330 582,333.500 C581.500,338.500 580,343 579.700,347.200 C579.800,352 581.300,356.500 583.100,360.800 C585,364 586.800,367 587.600,369.800 C588,373 587.500,376 586.500,377.800 C584.500,380.500 581,381.800 577.400,382.300"/>
<path d="M564.500,350.600 C568.500,350.300 572.500,350.500 574,351.700 C576.500,356 578.300,361 579.700,365.300 C581,368.500 582,371.500 582,374.400 C581.500,377.500 580,379.500 577.500,380.300"/>
<path d="M605.5,299.4 C607.3,300.2 607.8,300.0 611.0,301.8 C614.2,303.6 613.0,302.6 615.2,304.8 C617.4,307.0 616.4,306.0 617.5,308.5 C618.6,311.0 617.9,308.5 618.4,312.3 C618.9,316.1 619.0,314.1 619.0,320.0 C619.0,325.9 619.0,323.3 618.3,330.0 C617.6,336.7 617.7,334.2 616.8,340.0 C615.9,345.8 615.9,345.0 615.5,347.5"/>
<path d="M621.7,303.7 C623.3,304.8 623.6,304.5 626.5,307.0 C629.4,309.5 628.2,308.4 630.3,311.2 C632.4,314.0 631.4,312.6 632.8,315.5 C634.2,318.4 633.2,315.8 634.6,320.0 C636.0,324.2 635.3,321.7 637.0,328.0 C638.7,334.3 638.9,335.3 639.8,339.0"/>
</g>

<!-- bottom middle: 16, 18, connectors, 14 -->
<g id="bottom">
<!-- item 16 box -->
<path d="M460.900,350.800 L483.600,357.200 L485.400,388 L462.300,380.800 Z"/>
<path d="M460.900,350.800 L467.200,347.200 L487,351 M483.600,357.200 L487.500,354.500"/>
<path d="M485.400,388 L493,381.500 L492.500,366.500" />
<path d="M457.300,363.500 L461,361 M457.300,363.500 L458.200,374.400 L462,373.200 M459.500,368.300 L461.800,367.600 L462,371.500 L459.700,372.200 Z"/>
<!-- boss -->
<ellipse cx="494.400" cy="356.800" rx="8.500" ry="4"/>
<path d="M485.900,357 L485.900,361.800 C487,366.500 501.500,366.800 502.900,361.800 L502.900,357"/>
<ellipse cx="494" cy="356.600" rx="3.400" ry="1.600"/>
<path d="M487,360.300 l0,4 M488.600,361 l0,4.200 M490.200,361.500 l0,4.300 M491.800,361.800 l0,4.300 M493.400,362 l0,4.300 M495,362 l0,4.300 M496.600,361.900 l0,4.300 M498.200,361.600 l0,4.200 M499.800,361.200 l0,4 M501.300,360.500 l0,3.800" stroke-width="0.700"/>
<!-- wires from 16 -->
<path d="M491,369.500 C493,373 496,378 499,381.700 C501.500,384.500 506,385.800 514.400,385.500"/>
<path d="M492.500,372 C494.500,376 497,380 500,383.300 C502.500,386 507,387.600 514.400,387.500"/>
<path d="M491.500,375.500 C493.500,379.500 496,383 499,385.500 C502,388 507,389.500 514.400,389.500"/>
<path d="M492.500,379.500 C494.500,383 497,386 500,388 C503,390 508,391.500 514.400,391.500"/>
<path d="M490.800,368.500 l2.500,-0.800 M491.200,371.500 l2.500,-0.800 M491.200,374.800 l2.200,-0.600 M491.800,378.500 l2.200,-0.600" stroke="#000" stroke-width="1.300"/>
<!-- connector A -->
<path d="M514.400,383.300 L516,381.500 L523.500,382.300 L523.500,395.300 L514.800,394.300 Z M514.400,383.300 L521.800,384.300 L523.500,382.300 M521.800,384.300 L522,395.200"/>
<path d="M523.500,383.500 L526,381 L538.500,381.600 L540.700,383.500 L540.500,393.500 L537.500,396.300 L524.500,395.300 Z M523.500,383.500 L537.700,384.800 L540.700,383.500 M537.700,384.800 L537.500,396.300"/>
<path d="M540.700,387 L545.300,387.300 L545.300,388.700 L540.700,388.500" />
<circle cx="545.800" cy="388" r="0.900" fill="#2a2a2a"/>
<!-- connector B -->
<path d="M552,380.500 L554.500,378 L573,377.300 L575.100,379 L575,388 L572.800,390.300 L553,391 L552,389.500 Z M552,380.500 L572.500,379.800 L575.100,379 M572.500,379.800 L572.800,390.300"/>
<path d="M564.300,382.500 L567,382.300 C568.500,383.500 568.500,385.800 567.200,386.900 L564.500,387.100 Z" stroke-width="0.8"/>
<path d="M552.200,382.500 l1.800,0 l0,5.500 l-1.800,0.200" stroke-width="0.700"/>
<path d="M575.100,382.500 L578,382.800 M575.100,384.500 L578,385" stroke-width="0.8"/>
<!-- cable from connector B up -->
<!-- relay 18 -->
<path d="M516.200,335.400 L532.500,334.500 L532.500,351.200 L517.500,349 Z"/>
<path d="M516.200,335.400 L513.800,333 L519.800,328.200 L536.700,327.600 L539.500,331.500 L532.500,334.500"/>
<path d="M513.800,333 L514.500,337.500 L516.400,338.300" stroke-width="0.8"/>
<path d="M539.500,331.500 L546.100,336.500 L546.100,347.200 L540.700,349.900 L532.500,351.200 M539.500,331.500 L539.800,334.500 L540.700,349.900 M539.800,334.500 L546.100,336.500" />
<path d="M542,337.500 L545,338.500 L545,345.500 L542,346.800 Z" fill="#2a2a2a" stroke-width="0.5"/>
<path d="M540,349.500 L546.500,351 M541,347.500 L541.300,350.500" stroke="#000" stroke-width="1.100"/>
<!-- small connector -->
<path d="M551.600,344.500 L554,342 L562.500,342.800 L564.300,345 L564.300,352 L562,354.500 L553,353.500 L551.800,351.500 Z M551.600,344.500 L561.800,345.800 L564.300,345 M561.800,345.800 L562,354.500"/>
<path d="M551.800,346.500 l1.600,0.200 l0,4 l-1.600,0" stroke-width="0.700"/>
<!-- cable from small connector up -->
<!-- nut 12, screw 17, nut 15 -->
<circle cx="499.500" cy="341" r="2.300" fill="#333" stroke-width="0.600"/><circle cx="499.300" cy="340.800" r="0.800" fill="#aaa" stroke="none"/>
<path d="M466.500,391.500 L470,394" stroke-width="2"/><ellipse cx="470.300" cy="394.500" rx="1.600" ry="2" fill="#333" transform="rotate(-40 470.300 394.500)"/>
<circle cx="604.800" cy="403" r="2.300" fill="#333" stroke-width="0.600"/><circle cx="604.600" cy="402.700" r="0.800" fill="#aaa" stroke="none"/>
<!-- resistor 14 -->
<path d="M608.500,358.800 L663,341.800 M614.500,378 L668.500,359.500"/>
<ellipse cx="610.700" cy="368.800" rx="4.600" ry="10" transform="rotate(-16 610.700 368.800)"/>
<path d="M613.300,358 C617.500,362 620,371.500 618.500,377 M616.500,357 C620.500,361 623,370.500 621.800,375.800 M621,355 C625,359.500 627.500,369 626.500,374.300"/>
<path d="M640,349.300 C643.500,354 645.500,363 645,368 M644.500,347.800 C648,352.500 650,361.500 649.300,366.500 M646.800,347 C650.300,352 652.300,361 651.800,365.800"/>
<path d="M659.500,343 C663.500,347.500 665.500,356.500 665,361 M661.500,342.300 C665.500,347 667.500,355.500 667,360.300"/>
<path d="M663,341.800 C666,341 669.500,344 671.500,349.500 C673,354 672.500,358 670.500,359.800"/>
<path d="M666.500,340.800 C669.500,340.500 673,344 675,349.500 L676.500,357 L677.500,360 L669,364.500 L667.500,361 L671,359.500"/>
<path d="M677.500,360 L672,356.500" stroke-width="0.7"/>
<!-- tabs -->
<path d="M612.500,358.500 L612.200,350.500 C612.200,346.800 618.500,346.800 618.500,350.500 L618.800,356.500"/>
<ellipse cx="615.300" cy="350.300" rx="1.300" ry="1.600"/>
<path d="M637.800,349.500 L637.600,341.500 C637.600,337.800 644,337.800 644,341.500 L644.300,347.500"/>
<ellipse cx="640.800" cy="341.300" rx="1.300" ry="1.600"/>
<path d="M655.400,344 L655.400,337 C655.400,333.300 661.200,333.300 661.200,337 L661.400,342.300"/>
<ellipse cx="658.300" cy="336.800" rx="1.300" ry="1.600"/>
<!-- terminal nut and left bracket -->
<ellipse cx="605.500" cy="369.500" rx="2.600" ry="3.200" fill="#fff"/>
<path d="M603,368 l2,-1.800 l2.500,0.800 M603.500,371.500 l4,0.500" stroke-width="0.8"/>
<circle cx="604.300" cy="368.200" r="1.200" fill="#2a2a2a"/>
<path d="M608,361 L612.500,383.500 L614,386 L600.500,390.700 L596,379.500 L607.800,375.500 M612.500,383.500 L600,387.800"/>
<path d="M599.500,381.500 L606.500,379.300 L607.500,381.800 L602,383.800 L602.800,385.800" stroke-width="0.900"/>
<!-- wires up from tabs -->
<path d="M661.200,336.300 C680,337 705,339 725,340 C745,340.500 765,335 777,326.500 C783,321 787,312 790,303 C791.500,297 792.500,291 793.500,287"/>
</g>

<!-- right side: 13 terminals, 6, 10, 5, screws, wires -->
<g id="right">
<ellipse cx="702.600" cy="304" rx="5.900" ry="3.700" transform="rotate(8 702.600 304)"/>
<ellipse cx="702.800" cy="304" rx="3.700" ry="2.100" transform="rotate(8 702.800 304)"/>
<ellipse cx="744.500" cy="321" rx="5.900" ry="3.800" transform="rotate(8 744.500 321)"/>
<ellipse cx="744.700" cy="321" rx="3.700" ry="2.100" transform="rotate(8 744.700 321)"/>
<g id="term13" transform="translate(720.800,309.300) rotate(-48)">
<path d="M-12.500,-3.300 L-6,-3.300 L-6,3.300 L-12.500,3.300 Z" fill="#444"/>
<path d="M-11,-3.300 L-11,3.300 M-9.500,-3.300 L-9.500,3.300 M-8,-3.300 L-8,3.300" stroke="#ddd" stroke-width="0.5"/>
<path d="M-6,-5.500 L-3.800,-6.800 L-0.500,-6.800 L1,-5.500 L1,5.500 L-0.500,6.800 L-3.800,6.800 L-6,5.500 Z" fill="#fff"/>
<path d="M-3.800,-6.800 L-3.800,6.800 M-0.500,-6.800 L-0.500,6.800"/>
<path d="M1,-4.600 L5.500,-4.600 L5.500,4.600 L1,4.600" fill="#fff"/>
<path d="M2.200,-4.600 L2.200,4.600 M3.500,-4.600 L3.500,4.600" stroke-width="1.200" stroke="#000"/>
<path d="M5.500,-3.600 L8.500,-3.600 L8.500,3.600 L5.500,3.600" fill="#fff"/>
<path d="M6.500,-3.600 L6.500,3.600 M7.500,-3.600 L7.500,3.600" stroke-width="0.8" stroke="#000"/>
<path d="M8.500,-3 C9.300,-5.500 10.500,-7.500 12.800,-7.800 C15,-8 16.300,-5.800 15.300,-4 C14.400,-2.500 12.500,-2.100 11.300,-1.200 L11.300,1.200 C12.500,2.100 14.400,2.500 15.300,4 C16.300,5.800 15,8 12.800,7.800 C10.500,7.500 9.300,5.500 8.500,3 Z" fill="#fff" stroke="#000" stroke-width="1.100"/>
</g>
<g transform="translate(40.800,-1.300)"><g transform="translate(720.800,309.300) rotate(-48)">
<path d="M-12.500,-3.300 L-6,-3.300 L-6,3.300 L-12.500,3.300 Z" fill="#444"/>
<path d="M-11,-3.300 L-11,3.300 M-9.500,-3.300 L-9.500,3.300 M-8,-3.300 L-8,3.300" stroke="#ddd" stroke-width="0.5"/>
<path d="M-6,-5.500 L-3.800,-6.800 L-0.500,-6.800 L1,-5.500 L1,5.500 L-0.500,6.800 L-3.800,6.800 L-6,5.500 Z" fill="#fff"/>
<path d="M-3.800,-6.800 L-3.800,6.800 M-0.500,-6.800 L-0.500,6.800"/>
<path d="M1,-4.600 L5.500,-4.600 L5.500,4.600 L1,4.600" fill="#fff"/>
<path d="M2.200,-4.600 L2.200,4.600 M3.500,-4.600 L3.500,4.600" stroke-width="1.200" stroke="#000"/>
<path d="M5.500,-3.600 L8.500,-3.600 L8.500,3.600 L5.500,3.600" fill="#fff"/>
<path d="M6.500,-3.600 L6.500,3.600 M7.500,-3.600 L7.500,3.600" stroke-width="0.8" stroke="#000"/>
<path d="M8.500,-3 C9.300,-5.500 10.500,-7.500 12.800,-7.800 C15,-8 16.300,-5.800 15.300,-4 C14.400,-2.500 12.500,-2.100 11.300,-1.200 L11.300,1.200 C12.500,2.100 14.400,2.500 15.300,4 C16.300,5.800 15,8 12.800,7.800 C10.500,7.500 9.300,5.500 8.500,3 Z" fill="#fff" stroke="#000" stroke-width="1.100"/>
</g></g>
<!-- breaker 6 -->
<path d="M792.200,285.700 L800.300,282.700 L818.700,288.300 L813.600,291.300 L795.200,287.800 Z" fill="#fff"/>
<path d="M795.200,287.800 L813.600,293.900 L814.600,313.300 L796.800,305.600 Z" fill="#fff"/>
<path d="M813.600,291.300 L813.600,293.900 M813.600,293.900 L819.200,290.300 L818.700,288.300 M819.200,290.300 L819.700,309.700 L814.600,313.300"/>
<path d="M801.300,284.200 L812.100,287.200 L811,288.800 L800.800,285.700 Z" stroke-width="0.800"/>
<path d="M815.500,296 L819.300,293.500 M815.600,299 L817.700,298.500 C820.500,299.500 823,302 824.300,304.600 C824.300,306.500 823.500,307.500 822.300,307.700 C820.500,307.300 819,306 817.700,304.600 L815.800,305.500" />
<path d="M819.300,301 L822.300,304" stroke-width="1.300"/>
<g fill="#2a2a2a" stroke="none"><circle cx="794.200" cy="286.700" r="1.700"/><circle cx="797.800" cy="306.200" r="1.600"/><circle cx="811.800" cy="311.600" r="1.600"/><circle cx="811.300" cy="293.300" r="1.400"/><circle cx="794.900" cy="301.700" r="0.900"/></g>
<!-- socket 10 -->
<path d="M797.200,324.700 C801.500,327 804.500,331 804.300,335.500 C804,339.500 802.800,342.500 801.200,344.500"/>
<path d="M783.600,323 L793.800,319.600 L796.600,323.600 L787,325.900 Z" fill="#fff"/>
<path d="M785,322.800 l0.800,1.800 M787,322.200 l0.800,1.800 M789,321.500 l0.800,1.800 M791,320.800 l0.800,1.800 M793,320.200 l0.800,1.800" stroke-width="0.600"/>
<path d="M783.600,323 L785,330.500 M787,325.900 L793.800,347.500 M790.200,325.200 L796.800,345.500 M794.300,324.200 L800.700,343 M796.600,323.600 L801.200,342.800 C801.500,345.500 799.500,349 797.300,349.500 L793.800,347.500 L796.800,345.500 L800.700,343"/>
<path d="M785,329 C781.500,331 780,334.500 780.200,338 C780.600,342.500 783.500,346.500 788.100,349.300 L793.800,347.500" stroke="#000" stroke-width="1.600"/>
<path d="M786.300,329.800 C783.500,332 782.300,335 782.500,338 C783,342 785.500,345.500 789,347.800" stroke-width="0.800"/>
<path d="M787.500,331.500 C785.500,333.500 784.800,336 785,338.500 C785.500,342 787.500,344.800 790.500,346.500 L791.500,341 L788,331 Z" stroke-width="0.800"/>
<ellipse cx="787.300" cy="349.300" rx="2" ry="1.500" fill="#2a2a2a"/>
<!-- screws -->
<g fill="#444" stroke-width="0.500"><ellipse cx="813.800" cy="321.300" rx="1" ry="1.200"/><ellipse cx="817.800" cy="323.500" rx="1.200" ry="1.400"/><ellipse cx="824" cy="328" rx="1.400" ry="1.800"/>
<ellipse cx="791.500" cy="358.300" rx="1" ry="1.200"/><ellipse cx="798.300" cy="363.800" rx="1.400" ry="1.700"/>
<ellipse cx="763.300" cy="124.500" rx="1.100" ry="1.400"/><ellipse cx="768.300" cy="128" rx="1.200" ry="1.500"/><ellipse cx="777" cy="134" rx="1.500" ry="1.900"/></g>
<path d="M820.800,326 L823.500,327.700 M795.300,361.500 L797.800,363.300 M772.800,131.300 L776.300,133.600" stroke-width="1.500"/>
<!-- bag 5 -->
<path d="M792.600,236.600 L828.400,252.900 L832.500,265.800 L820.900,276.700 L791.200,259.700 Z"/>
<g fill="#222" stroke-width="0.500"><ellipse cx="795.800" cy="249" rx="2" ry="2.300"/><ellipse cx="801.900" cy="252.900" rx="1.800" ry="2.100"/><ellipse cx="806.600" cy="256" rx="1.800" ry="2.100"/><ellipse cx="811.100" cy="259" rx="1.800" ry="2.100"/><ellipse cx="815.700" cy="261.500" rx="1.800" ry="2.100"/><ellipse cx="820.200" cy="263.500" rx="1.900" ry="2.200"/></g>
<path d="M797.500,250 L800,251.800" stroke-width="1.600"/>
<g fill="#999" stroke="none"><circle cx="801.900" cy="252.900" r="0.450"/><circle cx="806.600" cy="256" r="0.450"/><circle cx="811.100" cy="259" r="0.450"/><circle cx="815.700" cy="261.500" r="0.450"/><circle cx="820.200" cy="263.500" r="0.500"/></g>
<!-- wires on right -->
<path d="M794.800,288.200 C789,294 785,298 783,301.800 C779,308 777,314 776.700,319.900 C776.500,325 777.500,330 779.400,334.400 C780.500,339 782.500,343.500 784.900,347.100"/>
<path d="M795.700,301.800 C792,305.500 789,309.500 786.700,312.600 C783,317 779.500,320.500 775.800,323.500 C770,327.500 765,330.500 759.500,332.600 C750,335.500 741,337.500 732.300,338.900 C720,340.300 708,340 696,339.800 C686,339.500 676,338 667,336.300"/>
<path d="M738.600,320.800 C733,322.500 728,324.200 723.200,324.400 C718,324.400 714,323.200 710.500,321.700 C705,319.500 700,316.500 694.500,312.500"/>
<path d="M650.100,308.600 C658,312.500 666,316.500 673.700,320.400 C683,325.500 692,331 702,337.500 C710,343 718,348 727,351.300 C735,353.500 744,354 752,353.800 C762,353 773,350.500 783,347.100"/>
<path d="M704,339.800 C710,342.500 716,345.800 722,347.600"/>
<path d="M654.800,320 C657,325 660,330 663,334.500 C667,339.500 671,344 675.700,347.200 C680,350 685,352 690.200,352.600 C698,352.800 705,350.500 712,349 C720,347.800 728,347.300 734,347 C750,345.800 766,344 781.200,342.600"/>
</g>

<!-- Labels and leaders -->
<g id="labels" stroke="#2a2a2a" stroke-width="0.9">
<path d="M244.3,42 L238,99"/>
<path d="M413,87 L423.4,116"/>
<path d="M139.4,178.8 L149.5,221.5"/>
<path d="M720.8,87.5 L711.5,138.8"/>
<path d="M780.5,24.5 L818,24.5 M780.5,44.8 L818,44.8 M780.5,64.5 L817,64.5 M780.5,24.5 L780.5,64.5 L773.3,130"/>
<path d="M647.5,93.8 L649.5,127.5"/>
<path d="M594.5,125.5 L611.3,162.5"/>
<path d="M553.3,153.8 L566.3,186.3"/>
<path d="M532.5,181.3 L578.8,201.3"/>
<path d="M646.3,185.5 L662.5,206.3"/>
<path d="M568.8,223 L578.8,237.5"/>
<path d="M812,194.5 L812.8,245"/>
<path d="M618.3,279.5 L640,273.8"/>
<path d="M478.7,332.7 L497.5,340.3"/>
<path d="M416.3,361 L462.1,316.8"/>
<path d="M522,363.5 L527.5,343.5"/>
<path d="M476.3,376 L503.8,411"/>
<path d="M471.3,396 L491.3,414.8"/>
<path d="M590.5,418.5 L603.8,404.8"/>
<path d="M634.5,362.5 L634.5,408.5"/>
<path d="M709.5,398.5 L715,320"/>
<path d="M764.5,372.3 L787,348.5"/>
<path d="M776.3,409.3 L776.3,379.8 L795.8,379.8 M776.3,394.8 L796,394.8 M776.3,409.3 L797,409.3 M776.3,379.8 L797,363.5"/>
<path d="M810.8,387.3 L810.8,357.3 L827,357.3 M810.8,372.3 L827,372.3 M810.8,387.3 L828.3,387.3 M810.8,357.3 L820.8,327.5"/>
<path d="M800.3,279.6 L804.4,296.4"/>
</g>
<g id="text">
<text x="247.5" y="38">28</text>
<text x="409" y="82.5">27</text>
<text x="135.7" y="173.6">29</text>
<text x="723.3" y="83">1</text>
<text x="800.8" y="39.2">4</text>
<text x="802.8" y="59.2">3</text>
<text x="801" y="77.6">2</text>
<text x="654" y="90.3">24</text>
<text x="592.5" y="121">23</text>
<text x="550" y="151">22</text>
<text x="522" y="182.8">21</text>
<text x="639" y="182.3">25</text>
<text x="560.8" y="221.5">19</text>
<text x="809.8" y="189.8">5</text>
<text x="607.4" y="290.6">20</text>
<text x="796.3" y="277.3">6</text>
<text x="466.2" y="337.9">12</text>
<text x="414.8" y="378.6">26</text>
<text x="522" y="376.5">18</text>
<text x="508" y="424">16</text>
<text x="486.3" y="430.8">17</text>
<text x="590.8" y="432">15</text>
<text x="637" y="420.3">14</text>
<text x="709" y="414">13</text>
<text x="762" y="386.3">10</text>
<text x="786.3" y="392.8">11</text>
<text x="786.3" y="407.5">12</text>
<text x="820.3" y="355.3">7</text>
<text x="819.5" y="369.5">8</text>
<text x="819.5" y="383.3">9</text>
</g>

</svg>
</body></html>
